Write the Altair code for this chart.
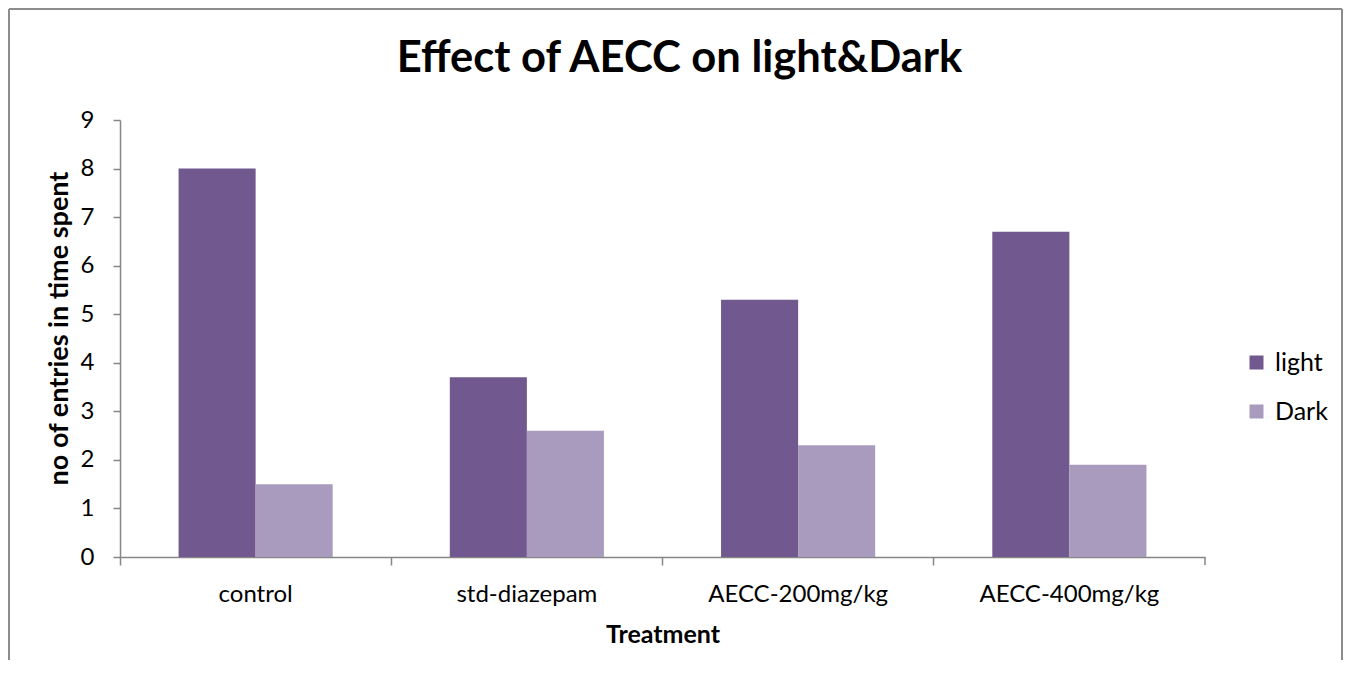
import altair as alt
import pandas as pd

treatments = ["control", "std-diazepam", "AECC-200mg/kg", "AECC-400mg/kg"]
light = [8.0, 3.7, 5.3, 6.7]
dark = [1.5, 2.6, 2.3, 1.9]
series = ["light", "Dark"]
colors = ["#71588F", "#A99BBD"]
y_ticks = [0, 1, 2, 3, 4, 5, 6, 7, 8, 9]

rows = []
for t, l, d in zip(treatments, light, dark):
    rows.append({"Treatment": t, "series": "light", "value": l})
    rows.append({"Treatment": t, "series": "Dark", "value": d})
df = pd.DataFrame(rows)
one = pd.DataFrame({"k": [0]})

FONT = "Lato"
AX = "#868686"
BORDER = "#8C8C8C"
W, H = 1085, 437

xscale = alt.Scale(paddingInner=0, paddingOuter=0)

bars = alt.Chart(df).mark_bar().encode(
    x=alt.X("Treatment:N", sort=treatments, scale=xscale,
            axis=alt.Axis(title=None, labels=False, ticks=True, bandPosition=0,
                          tickSize=8, tickColor=AX, domainColor=AX, tickWidth=1.5,
                          domainWidth=1.5, orient="bottom")),
    xOffset=alt.XOffset("series:N", sort=series,
                        scale=alt.Scale(paddingInner=0, paddingOuter=0.76)),
    y=alt.Y("value:Q", scale=alt.Scale(domain=[0, 9], nice=False),
            axis=alt.Axis(title="no of entries in time spent", values=y_ticks, grid=False,
                          tickSize=7, tickColor=AX, domainColor=AX, tickWidth=1.5,
                          domainWidth=1.5, labelFontSize=24, labelColor="#000000",
                          labelFont=FONT, labelPadding=19, titleFont=FONT,
                          titleFontSize=27, titleFontWeight="bold", titleColor="#000000",
                          titlePadding=7, titleY=208)),
    color=alt.Color("series:N", sort=series,
                    scale=alt.Scale(domain=series, range=colors),
                    legend=alt.Legend(title=None, orient="none", legendX=1124, legendY=230,
                                      symbolType="square", symbolSize=196,
                                      symbolStrokeWidth=0, labelFont=FONT,
                                      labelFontSize=25, labelColor="#000000",
                                      rowPadding=23, labelOffset=6)),
)

labels_layer = alt.Chart(df).mark_bar(opacity=0).encode(
    x=alt.X("Treatment:N", sort=treatments, scale=xscale,
            axis=alt.Axis(title="Treatment", labels=True, ticks=False, domain=False,
                          labelAngle=0, orient="bottom", labelFont=FONT, labelFontSize=24,
                          labelColor="#000000", labelPadding=25, titleFont=FONT,
                          titleFontSize=25, titleFontWeight="bold", titleColor="#000000",
                          titlePadding=16)),
    y=alt.Y("value:Q"),
)

end_tick = alt.Chart(one).mark_rule(color=AX, strokeWidth=1.5).encode(
    x=alt.value(W), y=alt.value(H), y2=alt.value(H + 8)
)

# outer chart frame (left, top, right edges)
frame_top = alt.Chart(one).mark_rule(color=BORDER, strokeWidth=2).encode(
    x=alt.value(-111), x2=alt.value(1222), y=alt.value(-111)
)
frame_left = alt.Chart(one).mark_rule(color=BORDER, strokeWidth=2).encode(
    x=alt.value(-111), y=alt.value(-111), y2=alt.value(540)
)
frame_right = alt.Chart(one).mark_rule(color=BORDER, strokeWidth=2).encode(
    x=alt.value(1222), y=alt.value(-111), y2=alt.value(540)
)

chart = alt.layer(bars, labels_layer, end_tick, frame_top, frame_left, frame_right).resolve_axis(
    x="independent"
).properties(
    width=W, height=H,
    background="#ffffff",
    padding={"left": 0, "top": 0, "right": 0, "bottom": 0},
    title=alt.TitleParams("Effect of AECC on light&Dark", font=FONT, fontSize=43.5,
                          fontWeight="bold", color="#000000", anchor="middle",
                          offset=0, dy=73, dx=17),
).configure_view(stroke="transparent")

chart.save("out.html", embed_options={"renderer": "svg", "actions": False})
